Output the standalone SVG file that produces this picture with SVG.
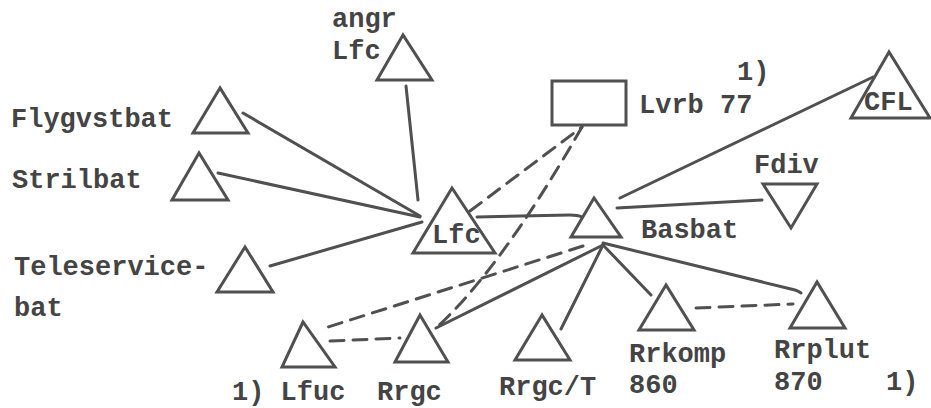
<svg xmlns="http://www.w3.org/2000/svg" width="931" height="408" viewBox="0 0 931 408">
<style>
.n{fill:none;stroke:#505050;stroke-width:3;stroke-linejoin:miter}
.c{fill:none;stroke:#505050;stroke-width:3;stroke-linecap:round}
.d{stroke-dasharray:14 9}
text{font-family:"Liberation Mono","Courier New",monospace;font-weight:bold;font-size:27px;fill:#444}
</style>
<rect width="931" height="408" fill="#fff"/>
<g id="connectors">
<line class="c" x1="243" y1="113" x2="420" y2="216"/>
<line class="c" x1="218" y1="173" x2="420" y2="217"/>
<line class="c" x1="270" y1="266" x2="422" y2="222"/>
<line class="c" x1="406" y1="86" x2="418" y2="200"/>
<path class="c" d="M477,217 L570,215 Q578,215 582,217"/>
<line class="c d" x1="470" y1="211" x2="582" y2="127"/>
<path class="c d" d="M582,127 Q500,270 436,328"/>
<line class="c d" x1="583" y1="246" x2="325" y2="328"/>
<line class="c d" x1="330" y1="341" x2="400" y2="338"/>
<line class="c" x1="603" y1="245" x2="436" y2="328"/>
<line class="c" x1="603" y1="245" x2="561" y2="329"/>
<line class="c" x1="603" y1="245" x2="651" y2="295"/>
<path class="c" d="M603,243 L795,290 Q800,292 801,293"/>
<line class="c d" x1="696" y1="308" x2="793" y2="304"/>
<line class="c" x1="620" y1="198" x2="873" y2="77"/>
<line class="c" x1="617" y1="208" x2="762" y2="200"/>
</g>
<g id="angrLfc"><polygon class="n" points="403,35 377,80 432,80"/><text x="332" y="27">angr</text><text x="332" y="59">Lfc</text></g>
<g id="Flygvstbat"><polygon class="n" points="220,88 193,133 248,133"/><text x="11" y="127">Flygvstbat</text></g>
<g id="Strilbat"><polygon class="n" points="199,153 172,200 228,200"/><text x="12" y="188">Strilbat</text></g>
<g id="Teleservicebat"><polygon class="n" points="245,247 217,292 273,292"/><text x="14" y="275">Teleservice-</text><text x="14" y="316">bat</text></g>
<g id="Lfc"><polygon class="n" points="452,188 413,253 495,253"/><text x="432" y="243">Lfc</text></g>
<g id="Lvrb77"><rect class="n" x="552" y="81" width="74" height="44"/><text x="639" y="113">Lvrb 77</text><text x="737" y="80">1)</text></g>
<g id="CFL"><polygon class="n" points="889,52 851,118 930,118"/><text x="864" y="110">CFL</text></g>
<g id="Basbat"><polygon class="n" points="594,198 571,237 621,237"/><text x="641" y="238">Basbat</text></g>
<g id="Fdiv"><polygon class="n" points="763,184 817,184 791,228"/><text x="754" y="173">Fdiv</text></g>
<g id="Lfuc"><polygon class="n" points="303,322 282,367 335,367"/><text x="232" y="400">1) Lfuc</text></g>
<g id="Rrgc"><polygon class="n" points="420,315 395,362 448,362"/><text x="377" y="400">Rrgc</text></g>
<g id="RrgcT"><polygon class="n" points="542,315 515,360 570,360"/><text x="499" y="395">Rrgc/T</text></g>
<g id="Rrkomp"><polygon class="n" points="666,285 639,330 694,330"/><text x="629" y="362">Rrkomp</text><text x="629" y="393">860</text></g>
<g id="Rrplut"><polygon class="n" points="817,282 790,328 845,328"/><text x="774" y="358">Rrplut</text><text x="774" y="390">870</text><text x="886" y="390">1)</text></g>
</svg>
